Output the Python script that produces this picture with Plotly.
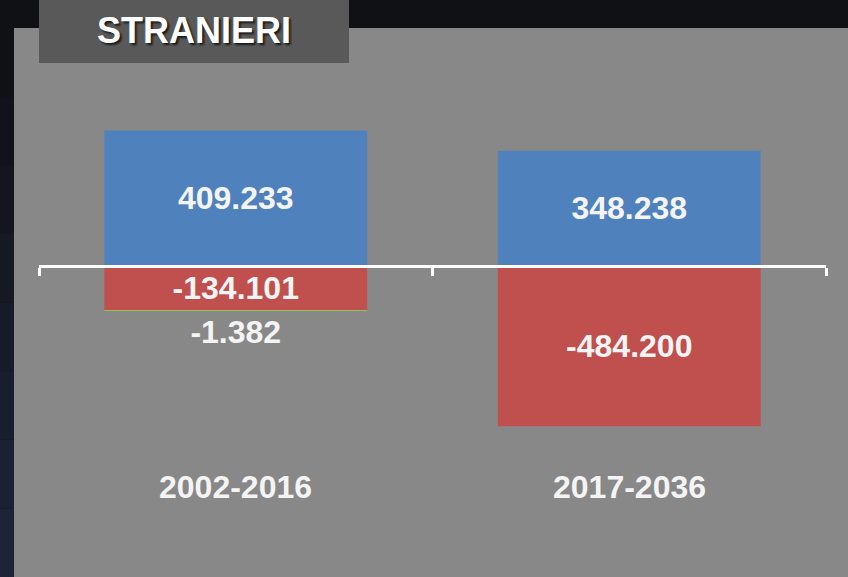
import plotly.graph_objects as go

categories = ["2002-2016", "2017-2036"]
positive_vals = [409233, 348238]
negative_vals = [-134101, -484200]
other_vals = [-1382, None]
title_text = "STRANIERI"


def fmt(v):
    if v is None:
        return ""
    return f"{v:,}".replace(",", ".")


W, H = 848, 577
L, R, T, B = 39, 22, 100, 127
plot_h = H - T - B
px_per_unit = 0.331 / 1000
zero_px = 266
y_top = (zero_px - T) / px_per_unit
y_bot = -(T + plot_h - zero_px) / px_per_unit
zero_frac = (0 - y_bot) / (y_top - y_bot)

x = list(range(len(categories)))
font_family = "Liberation Sans, Arial, sans-serif"
txt_color = "#f4f4f4"
val_size = 32

fig = go.Figure()
fig.add_trace(go.Bar(
    x=x, y=positive_vals, marker_color="#4f81bd", marker_line_width=0,
    text=[fmt(v) for v in positive_vals], textposition="inside",
    insidetextanchor="middle", constraintext="none",
    textfont=dict(family=font_family, size=val_size, color=txt_color, weight="bold"),
    width=0.668, hoverinfo="skip",
))
fig.add_trace(go.Bar(
    x=x, y=negative_vals, marker_color="#c0504d", marker_line_width=0,
    text=[fmt(v) for v in negative_vals], textposition="inside",
    insidetextanchor="middle", constraintext="none",
    textfont=dict(family=font_family, size=val_size, color=txt_color, weight="bold"),
    width=0.668, hoverinfo="skip",
))
fig.add_trace(go.Bar(
    x=x, y=other_vals, marker_color="#9bbb59", marker_line_width=0,
    text=[fmt(v) for v in other_vals], textposition="outside",
    constraintext="none", cliponaxis=False,
    textfont=dict(family=font_family, size=val_size, color=txt_color, weight="bold"),
    width=0.668, hoverinfo="skip",
))

shapes = [
    # gray panel
    dict(type="rect", xref="paper", yref="paper", layer="below",
         x0=(14 - L) / (W - L - R), x1=(W + 5 - L) / (W - L - R),
         y0=(T + plot_h - H - 5) / plot_h, y1=(T + plot_h - 28) / plot_h,
         fillcolor="#888888", line_width=0),
    # title box
    dict(type="rect", xref="paper", yref="paper", layer="below",
         x0=(39 - L) / (W - L - R), x1=(349 - L) / (W - L - R),
         y0=(T + plot_h - 63) / plot_h, y1=(T + plot_h + 5) / plot_h,
         fillcolor="#595959", line_width=0),
]
# left dark strip gradient
bands = 8
c0 = (16, 17, 21)
c1 = (29, 36, 56)
for i in range(bands):
    f = i / (bands - 1)
    col = "rgb(%d,%d,%d)" % tuple(int(c0[k] + (c1[k] - c0[k]) * f) for k in range(3))
    ya = 28 + (H - 28) * i / bands
    yb = 28 + (H - 28) * (i + 1) / bands
    shapes.append(dict(type="rect", xref="paper", yref="paper", layer="below",
                       x0=(0 - L) / (W - L - R), x1=(14 - L) / (W - L - R),
                       y0=(T + plot_h - yb) / plot_h, y1=(T + plot_h - ya) / plot_h,
                       fillcolor=col, line_width=0))

annotations = [
    dict(text=title_text, xref="paper", yref="paper",
         x=(194 - L) / (W - L - R), y=(T + plot_h - 30) / plot_h,
         showarrow=False, xanchor="center", yanchor="middle",
         font=dict(family=font_family, size=36, color="#ffffff", weight="bold",
                   shadow="2px 2px 2px rgba(0,0,0,0.7)")),
]
for i, c in enumerate(categories):
    annotations.append(dict(
        text=c, x=i, xref="x", yref="paper", y=(T + plot_h - 487) / plot_h,
        showarrow=False, xanchor="center", yanchor="middle",
        font=dict(family=font_family, size=32, color=txt_color, weight="bold")))

fig.update_layout(
    width=W, height=H,
    margin=dict(l=L, r=R, t=T, b=B, pad=0),
    paper_bgcolor="#101115", plot_bgcolor="rgba(0,0,0,0)",
    barmode="relative", bargap=0.33, showlegend=False,
    shapes=shapes, annotations=annotations,
    xaxis=dict(range=[-0.5, len(categories) - 0.5], anchor="free", position=zero_frac,
               showline=True, linecolor="#ffffff", linewidth=3,
               ticks="outside", tickvals=[-0.5, 0.5, 1.5], ticklen=8, tickwidth=3,
               tickcolor="#ffffff", showticklabels=False, showgrid=False, zeroline=False,
               fixedrange=True),
    yaxis=dict(range=[y_bot, y_top], visible=False, showgrid=False, zeroline=False,
               fixedrange=True),
)

fig.write_html(
    "out.html",
    config={"displayModeBar": False},
    post_script="document.body.style.margin='0';document.body.style.background='#101115';",
)
